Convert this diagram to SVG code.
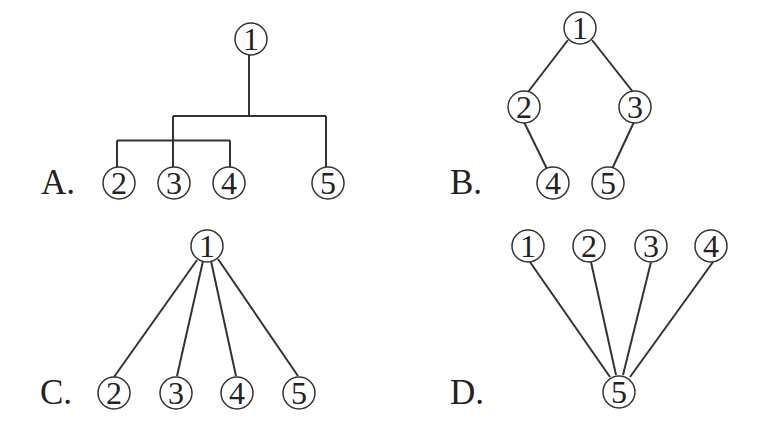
<svg xmlns="http://www.w3.org/2000/svg" width="761" height="421" viewBox="0 0 761 421">
<style>
.n circle{fill:#fff;stroke:#333;stroke-width:1.5}
.n text{font-family:"Liberation Serif",serif;font-size:32px;fill:#222;text-anchor:middle}
.lbl{font-family:"Liberation Serif",serif;font-size:35px;fill:#222}
.e{stroke:#333;stroke-width:2;fill:none}
</style>
<rect width="761" height="421" fill="#fff"/>
<g id="connectors">
<path class="e" d="M249 55V116M173 116H326M173 116V167M326 116V167M117 140.5H230M117 140.5V167M230 140.5V167"/>
<path class="e" d="M568 40L528 92M592 40L633 92M524 122L547 169M634 122L612 169"/>
<path class="e" d="M197 260L114 377M203 261L177 376M211 261L236 376M218 259L298 376"/>
<path class="e" d="M530 262L610 377M591 262L616 375M651 262L623 375M713 262L630 377"/>
</g>
<text class="lbl" x="41" y="194">A.</text>
<text class="lbl" x="450" y="194">B.</text>
<text class="lbl" x="40" y="404">C.</text>
<text class="lbl" x="450" y="404">D.</text>
<g id="A1" class="n"><circle cx="251" cy="39" r="16"/><text x="251" y="50">1</text></g>
<g id="A2" class="n"><circle cx="119" cy="183" r="16"/><text x="119" y="194">2</text></g>
<g id="A3" class="n"><circle cx="174" cy="183" r="16"/><text x="174" y="194">3</text></g>
<g id="A4" class="n"><circle cx="229" cy="183" r="16"/><text x="229" y="194">4</text></g>
<g id="A5" class="n"><circle cx="328" cy="183" r="16"/><text x="328" y="194">5</text></g>
<g id="B1" class="n"><circle cx="580" cy="28" r="16"/><text x="580" y="39">1</text></g>
<g id="B2" class="n"><circle cx="524" cy="107" r="16"/><text x="524" y="118">2</text></g>
<g id="B3" class="n"><circle cx="635" cy="107" r="16"/><text x="635" y="118">3</text></g>
<g id="B4" class="n"><circle cx="553" cy="183" r="16"/><text x="553" y="194">4</text></g>
<g id="B5" class="n"><circle cx="608" cy="183" r="16"/><text x="608" y="194">5</text></g>
<g id="C1" class="n"><circle cx="207" cy="246" r="16"/><text x="207" y="257">1</text></g>
<g id="C2" class="n"><circle cx="114" cy="393" r="16"/><text x="114" y="404">2</text></g>
<g id="C3" class="n"><circle cx="176" cy="393" r="16"/><text x="176" y="404">3</text></g>
<g id="C4" class="n"><circle cx="237" cy="393" r="16"/><text x="237" y="404">4</text></g>
<g id="C5" class="n"><circle cx="299" cy="393" r="16"/><text x="299" y="404">5</text></g>
<g id="D1" class="n"><circle cx="528" cy="246" r="16"/><text x="528" y="257">1</text></g>
<g id="D2" class="n"><circle cx="589" cy="246" r="16"/><text x="589" y="257">2</text></g>
<g id="D3" class="n"><circle cx="651" cy="246" r="16"/><text x="651" y="257">3</text></g>
<g id="D4" class="n"><circle cx="711" cy="246" r="16"/><text x="711" y="257">4</text></g>
<g id="D5" class="n"><circle cx="619" cy="392" r="16"/><text x="619" y="403">5</text></g>
</svg>
